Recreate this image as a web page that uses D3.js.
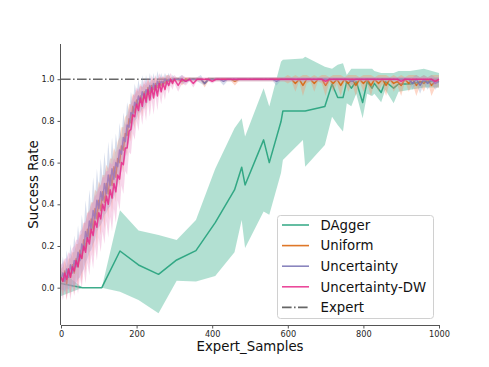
<!DOCTYPE html>
<html><head><meta charset="utf-8">
<script src="https://cdn.jsdelivr.net/npm/d3@7/dist/d3.min.js"></script>
<style>body{margin:0;background:#fff}svg{display:block}text{font-family:"DejaVu Sans",sans-serif}</style>
</head><body><svg id="c" width="489" height="367"></svg>
<script>
// ---------- DATA ----------
const xTicks = [0, 200, 400, 600, 800, 1000];
const yTicks = [0.0, 0.2, 0.4, 0.6, 0.8, 1.0];
const seriesNames = ["DAgger", "Uniform", "Uncertainty", "Uncertainty-DW", "Expert"];

const daggerX = [0,57,108,156,205,258,306,357,408,459,478,487,536,551,582,587,640,646,698,717,732,746,756,768,781,798,810,823,829,847,858,880,893,924,960,1000];
const daggerMean = [0.02,0,0,0.176,0.109,0.064,0.133,0.178,0.312,0.469,0.578,0.493,0.709,0.6,0.797,0.848,0.848,0.848,0.869,0.977,0.912,0.912,0.989,0.957,0.989,0.888,0.989,0.957,0.98,0.936,0.989,0.957,0.977,0.977,0.99,0.99];
const daggerLow = [-0.04,0,0,-0.02,-0.059,-0.123,0.033,0.03,0.056,0.17,0.325,0.19,0.365,0.35,0.55,0.613,0.709,0.58,0.685,0.82,0.78,0.749,0.885,0.87,0.93,0.813,0.93,0.92,0.93,0.89,0.95,0.885,0.94,0.95,0.96,0.96];
const daggerHigh = [0.08,0,0,0.372,0.274,0.253,0.229,0.325,0.57,0.765,0.813,0.725,0.957,0.869,1.084,1.093,1.1,1.108,1.06,1.05,1.07,1.077,1.02,1.05,1.05,1.05,1.05,1.05,1.04,1.03,1.03,1.03,1.04,1.04,1.05,1.03];

const sampleX = [0,5,10,15,20,25,30,35,40,45,50,55,60,65,70,75,80,85,90,95,100,105,110,115,120,125,130,135,140,145,150,155,160,165,170,175,180,185,190,195,200,205,210,215,220,225,230,235,240,245,250,255,260,265,270,275,280,285,290,295,
300,310,320,330,340,350,360,370,380,390,400,410,420,430,440,450,460,470,480,490,500,510,520,530,540,550,560,570,580,590,600,610,620,630,640,650,660,670,680,690,700,710,720,730,740,750,760,770,780,790,800,810,820,830,840,850,860,870,880,890,900,910,920,930,940,950,960,970,980,990,1000];

const uniformMean = [0.05,0.03,0.08,0.02,0.09,0.05,0.11,0.07,0.14,0.10,0.18,0.14,0.23,0.19,0.28,0.24,0.33,0.28,0.38,0.33,0.42,0.37,0.46,0.41,0.50,0.45,0.54,0.49,0.58,0.53,0.62,0.60,0.68,0.66,0.74,0.73,0.81,0.79,0.87,0.84,0.90,0.87,0.92,0.89,0.94,0.91,0.96,0.93,0.97,0.95,0.98,0.96,0.99,0.97,0.99,0.98,1.0,0.99,1.0,0.99,1.0,
1,0.99,1,1,1,1,1,0.98,1,1,
1,1,1,1,1,0.99,1,1,1,1,
1,1,1,1,1,1,1,1,1,1,
1,0.98,1,0.97,1,1,0.98,1,1,0.97,
1,0.98,1,0.97,1,0.98,1,0.97,1,0.98,
1,0.97,1,0.98,1,0.97,1,0.98,0.99,0.97,
1,0.98,1,0.97,0.99,0.98,1,0.97,0.99,0.99];
const uniformStd = [0.04,0.07,0.05,0.08,0.05,0.09,0.06,0.10,0.07,0.11,0.07,0.12,0.08,0.12,0.08,0.13,0.08,0.13,0.09,0.13,0.09,0.12,0.08,0.13,0.09,0.12,0.08,0.13,0.09,0.12,0.08,0.12,0.09,0.11,0.08,0.10,0.07,0.09,0.06,0.08,0.05,0.07,0.05,0.07,0.04,0.06,0.04,0.05,0.03,0.05,0.03,0.04,0.02,0.04,0.02,0.03,0.02,0.03,0.01,0.02,0.01,
0.01,0.02,0.01,0.01,0.01,0.01,0.01,0.02,0.01,0.01,
0.01,0.01,0.01,0.01,0.01,0.02,0.01,0.01,0.01,0.01,
0.01,0.01,0.01,0.01,0.01,0.01,0.01,0.01,0.01,0.02,
0.01,0.04,0.01,0.05,0.02,0.01,0.04,0.01,0.02,0.05,
0.01,0.04,0.02,0.05,0.01,0.04,0.02,0.05,0.01,0.04,
0.02,0.05,0.01,0.04,0.02,0.05,0.01,0.04,0.02,0.05,
0.01,0.04,0.02,0.05,0.02,0.04,0.01,0.05,0.03,0.03];

const uncertMean = [0.04,0.07,0.03,0.09,0.05,0.11,0.07,0.13,0.10,0.17,0.13,0.21,0.18,0.27,0.23,0.32,0.28,0.37,0.33,0.42,0.38,0.46,0.42,0.50,0.45,0.54,0.49,0.57,0.52,0.60,0.58,0.66,0.64,0.72,0.70,0.78,0.77,0.84,0.83,0.89,0.87,0.92,0.89,0.94,0.91,0.95,0.93,0.97,0.94,0.98,0.95,0.99,0.97,0.99,0.98,1.0,0.99,1.0,0.99,1.0,1.0,
1,1,0.99,1,1,1,1,0.98,1,1,
1,1,0.99,1,1,1,1,1,1,1,
1,1,1,1,1,1,0.99,1,1,1,
1,1,1,1,1,1,1,1,1,1,
1,1,1,1,1,1,0.99,1,1,1,
1,1,1,1,1,1,1,1,1,1,
1,1,0.98,1,0.97,1,0.98,1,0.98,0.99];
const uncertStd = [0.05,0.08,0.05,0.09,0.06,0.10,0.07,0.12,0.08,0.13,0.08,0.14,0.09,0.15,0.09,0.15,0.10,0.16,0.10,0.15,0.09,0.16,0.10,0.15,0.09,0.16,0.10,0.15,0.09,0.14,0.09,0.13,0.08,0.12,0.08,0.11,0.07,0.10,0.06,0.09,0.06,0.08,0.05,0.08,0.05,0.07,0.04,0.06,0.04,0.05,0.03,0.05,0.03,0.04,0.02,0.03,0.02,0.03,0.01,0.02,0.01,
0.01,0.02,0.01,0.01,0.01,0.01,0.02,0.01,0.01,0.01,
0.01,0.01,0.02,0.01,0.01,0.01,0.01,0.01,0.01,0.01,
0.01,0.01,0.01,0.01,0.01,0.01,0.02,0.01,0.01,0.01,
0.01,0.01,0.01,0.01,0.01,0.01,0.01,0.01,0.01,0.01,
0.01,0.01,0.01,0.01,0.01,0.01,0.02,0.01,0.01,0.01,
0.01,0.01,0.01,0.01,0.01,0.01,0.01,0.01,0.01,0.01,
0.01,0.01,0.03,0.02,0.04,0.02,0.03,0.02,0.03,0.02];

const uncertDWMean = [0.05,0.03,0.07,0.04,0.09,0.05,0.10,0.08,0.13,0.10,0.16,0.14,0.20,0.17,0.24,0.21,0.28,0.25,0.32,0.29,0.36,0.33,0.40,0.37,0.44,0.40,0.47,0.43,0.50,0.46,0.54,0.52,0.60,0.59,0.67,0.67,0.75,0.76,0.83,0.82,0.88,0.85,0.91,0.87,0.93,0.89,0.95,0.90,0.96,0.91,0.97,0.92,0.98,0.94,0.98,0.95,0.99,0.97,1.0,0.98,1.0,
0.97,1,0.99,1,0.98,1,1,1,1,0.99,
1,1,1,1,1,1,1,1,1,1,
1,1,1,1,1,1,1,1,1,1,
1,1,1,1,1,1,1,1,1,0.99,
1,1,1,1,1,1,1,1,1,1,
1,1,1,1,1,1,1,1,1,0.99,
1,1,1,1,1,1,1,1,0.99,1];
const uncertDWStd = [0.06,0.09,0.07,0.10,0.08,0.11,0.09,0.12,0.10,0.13,0.11,0.14,0.11,0.15,0.12,0.15,0.12,0.16,0.12,0.16,0.12,0.16,0.13,0.16,0.12,0.16,0.13,0.16,0.12,0.15,0.12,0.15,0.11,0.14,0.11,0.13,0.10,0.12,0.09,0.11,0.08,0.10,0.07,0.09,0.07,0.09,0.06,0.08,0.06,0.08,0.05,0.07,0.05,0.06,0.04,0.05,0.03,0.04,0.03,0.03,0.02,
0.03,0.02,0.02,0.01,0.02,0.01,0.01,0.01,0.01,0.01,
0.01,0.01,0.01,0.01,0.01,0.01,0.01,0.01,0.01,0.01,
0.01,0.01,0.01,0.01,0.01,0.01,0.01,0.01,0.01,0.01,
0.01,0.01,0.01,0.01,0.01,0.01,0.01,0.01,0.01,0.02,
0.01,0.01,0.01,0.01,0.01,0.01,0.01,0.01,0.01,0.01,
0.01,0.01,0.01,0.01,0.01,0.01,0.01,0.01,0.01,0.02,
0.01,0.01,0.01,0.01,0.01,0.01,0.01,0.01,0.02,0.01];

const expertValue = 1.0;

// ---------- DRAW ----------
const svg = d3.select("#c");
const x = d3.scaleLinear().domain([0, 1000]).range([61, 439]);
const y = d3.scaleLinear().domain([-0.179, 1.169]).range([325, 44]);

const lineCol = {"DAgger":"#1b9e77","Uniform":"#d95f02","Uncertainty":"#7570b3","Uncertainty-DW":"#e7298a","Expert":"#666666"};
const fillCol = {"DAgger":"#66c2a5","Uniform":"#fc8d62","Uncertainty":"#8da0cb","Uncertainty-DW":"#e78ac3"};

const area = d3.area().x(d => x(d[0])).y0(d => y(d[1])).y1(d => y(d[2]));
const line = d3.line().x(d => x(d[0])).y(d => y(d[1]));

const plot = svg.append("g");
// expert (underneath)
plot.append("path").datum([[0, expertValue],[1000, expertValue]]).attr("d", line)
  .attr("fill","none").attr("stroke",lineCol.Expert).attr("stroke-width",1.6)
  .attr("stroke-dasharray","9.6,2.4,1.6,2.4");

function drawSeries(name, xs, mean, lo, hi, fillOp){
  const band = xs.map((v,i)=>[v, lo[i], hi[i]]);
  plot.append("path").datum(band).attr("d", area).attr("fill", fillCol[name]).attr("fill-opacity", fillOp);
  plot.append("path").datum(xs.map((v,i)=>[v, mean[i]])).attr("d", line)
    .attr("fill","none").attr("stroke", lineCol[name]).attr("stroke-width",1.5).attr("stroke-opacity",0.85)
    .attr("stroke-linejoin","round");
}
drawSeries("DAgger", daggerX, daggerMean, daggerLow, daggerHigh, 0.5);
drawSeries("Uniform", sampleX, uniformMean, uniformMean.map((m,i)=>m-uniformStd[i]), uniformMean.map((m,i)=>m+uniformStd[i]), 0.35);
drawSeries("Uncertainty", sampleX, uncertMean, uncertMean.map((m,i)=>m-uncertStd[i]), uncertMean.map((m,i)=>m+uncertStd[i]), 0.35);
drawSeries("Uncertainty-DW", sampleX, uncertDWMean, uncertDWMean.map((m,i)=>m-uncertDWStd[i]), uncertDWMean.map((m,i)=>m+uncertDWStd[i]), 0.35);

// axes
const xAxis = svg.append("g").attr("transform","translate(0,325)")
  .call(d3.axisBottom(x).tickValues(xTicks).tickSize(3.5).tickPadding(2.5).tickFormat(d3.format("d")));
const yAxis = svg.append("g").attr("transform","translate(61,0)")
  .call(d3.axisLeft(y).tickValues(yTicks).tickSize(3.5).tickPadding(3).tickFormat(d3.format(".1f")));
[xAxis, yAxis].forEach(a => {
  a.select(".domain").attr("stroke","#555").attr("stroke-width",1);
  a.selectAll(".tick line").attr("stroke","#555");
  a.selectAll(".tick text").attr("fill","#262626").style("font-size","8.2px").style("font-family","DejaVu Sans");
});
xAxis.select(".domain").attr("d","M61,0.5H439");
yAxis.select(".domain").attr("d","M-0.5,44V325");

svg.append("text").attr("x",250).attr("y",351).attr("text-anchor","middle")
  .style("font-size","13.3px").attr("fill","#111").text("Expert_Samples");
svg.append("text").attr("transform","translate(37.5,184.5) rotate(-90)").attr("text-anchor","middle")
  .style("font-size","13.3px").attr("fill","#111").text("Success Rate");

// legend
const lg = svg.append("g");
lg.append("rect").attr("x",277.5).attr("y",215.5).attr("width",156).attr("height",103).attr("rx",3)
  .attr("fill","#fff").attr("fill-opacity",0.8).attr("stroke","#d0d0d0");
seriesNames.forEach((n,i) => {
  const yy = 225 + i*20.6;
  const l = lg.append("line").attr("x1",282).attr("x2",309).attr("y1",yy).attr("y2",yy)
    .attr("stroke", lineCol[n]).attr("stroke-width",1.6);
  if (n === "Expert") l.attr("stroke-dasharray","9.6,2.4,1.6,2.4");
  else l.attr("stroke-opacity",0.85);
  lg.append("text").attr("x",320.5).attr("y",yy+4.7).style("font-size","13.3px").attr("fill","#111").text(n);
});
</script></body></html>
